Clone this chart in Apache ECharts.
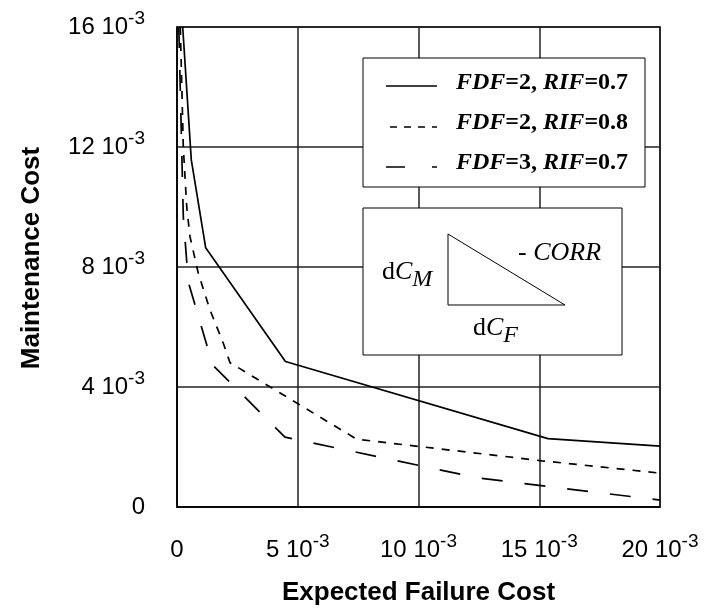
<!DOCTYPE html>
<html>
<head>
<meta charset="utf-8">
<script src="https://cdn.jsdelivr.net/npm/echarts@6/dist/echarts.min.js"></script>
<style>
html,body{margin:0;padding:0;background:#fff;}
#chart{width:704px;height:616px;}
</style>
</head>
<body>
<div id="chart"></div>
<script>
// Values in units of 10^-3
const seriesNames = ['FDF=2, RIF=0.7', 'FDF=2, RIF=0.8', 'FDF=3, RIF=0.7'];
const failCostA = [0.236, 0.592, 1.188, 4.49, 15.36, 20.0];
const maintCostA = [16.0, 11.57, 8.64, 4.85, 2.28, 2.03];
const failCostB = [0.137, 0.261, 0.402, 0.538, 0.882, 1.366, 1.917, 2.195, 7.44, 15.11, 20.0];
const maintCostB = [16.0, 12.0, 10.01, 9.01, 7.79, 6.57, 5.46, 4.81, 2.26, 1.54, 1.13];
const failCostC = [0.075, 0.261, 0.468, 1.478, 4.47, 12.46, 20.0];
const maintCostC = [16.0, 9.67, 7.5, 4.73, 2.33, 0.97, 0.23];
const xTickValues = [0, 5, 10, 15, 20];
const yTickValues = [0, 4, 8, 12, 16];
const tickExponent = '-3';

const pairs = (xs, ys) => xs.map((x, i) => [x, ys[i]]);
const tickRich = {
  a: {fontFamily: 'Liberation Sans', fontSize: 24, lineHeight: 36, color: '#000'},
  b: {fontFamily: 'Liberation Sans', fontSize: 19, lineHeight: 19, verticalAlign: 'top', color: '#000'}
};
const tickFmt = v => v === 0 ? '{a|0}' : '{a|' + v + ' 10}{b|' + tickExponent + '}';

const serif = 'Liberation Serif';
const legRich = {
  i: {fontFamily: serif, fontSize: 24, fontStyle: 'italic', fontWeight: 'bold', fill: '#000'},
  r: {fontFamily: serif, fontSize: 24, fontWeight: 'bold', fill: '#000'}
};
function legText(name) {
  const m = name.match(/^FDF(=\d+, )RIF(=[\d.]+)$/);
  return '{i|FDF}{r|' + m[1] + '}{i|RIF}{r|' + m[2] + '}';
}
const insetRich = {
  r: {fontFamily: serif, fontSize: 26, lineHeight: 40, fill: '#000'},
  i: {fontFamily: serif, fontSize: 26, lineHeight: 40, fontStyle: 'italic', fill: '#000'},
  s: {fontFamily: serif, fontSize: 24, lineHeight: 24, fontStyle: 'italic', verticalAlign: 'bottom', fill: '#000'}
};

const chart = echarts.init(document.getElementById('chart'));
chart.setOption({
  animation: false,
  backgroundColor: '#fff',
  grid: {left: 177, right: 44, top: 27, bottom: 109, show: true, borderColor: '#000', borderWidth: 1.5, backgroundColor: 'transparent'},
  xAxis: {
    type: 'value', min: 0, max: 20, interval: 5,
    axisLine: {show: true, lineStyle: {color: '#000', width: 1.5}},
    axisTick: {show: false},
    splitLine: {show: true, lineStyle: {color: '#222', width: 1.5}},
    axisLabel: {margin: 25, formatter: tickFmt, rich: tickRich},
    name: 'Expected Failure Cost', nameLocation: 'middle', nameGap: 73,
    nameTextStyle: {fontFamily: 'Liberation Sans', fontWeight: 'bold', fontSize: 26, color: '#000'}
  },
  yAxis: {
    type: 'value', min: 0, max: 16, interval: 4,
    axisLine: {show: true, lineStyle: {color: '#000', width: 1.5}},
    axisTick: {show: false},
    splitLine: {show: true, lineStyle: {color: '#222', width: 1.5}},
    axisLabel: {margin: 32, formatter: tickFmt, rich: tickRich},
    name: 'Maintenance Cost', nameLocation: 'middle', nameGap: 132,
    nameTextStyle: {fontFamily: 'Liberation Sans', fontWeight: 'bold', fontSize: 26, color: '#000', padding: [0, 0, 0, 18]}
  },
  series: [
    {name: seriesNames[0], type: 'line', data: pairs(failCostA, maintCostA), showSymbol: false, symbol: 'none',
     lineStyle: {color: '#000', width: 1.7, type: 'solid'}, z: 5},
    {name: seriesNames[1], type: 'line', data: pairs(failCostB, maintCostB), showSymbol: false, symbol: 'none',
     lineStyle: {color: '#000', width: 1.7, type: [8, 8]}, z: 5},
    {name: seriesNames[2], type: 'line', data: pairs(failCostC, maintCostC), showSymbol: false, symbol: 'none',
     lineStyle: {color: '#000', width: 1.7, type: [21, 22]}, z: 5}
  ],
  graphic: [
    {type: 'rect', z: 100, shape: {x: 363, y: 58, width: 282, height: 129}, style: {fill: '#fff', stroke: '#000', lineWidth: 1}},
    {type: 'line', z: 101, shape: {x1: 386, y1: 86, x2: 437, y2: 86}, style: {stroke: '#000', lineWidth: 1.5}},
    {type: 'line', z: 101, shape: {x1: 390, y1: 127, x2: 437, y2: 127}, style: {stroke: '#000', lineWidth: 1.5, lineDash: [7, 7]}},
    {type: 'line', z: 101, shape: {x1: 386, y1: 167, x2: 437, y2: 167}, style: {stroke: '#000', lineWidth: 1.5, lineDash: [19, 27]}},
    {type: 'text', z: 101, style: {x: 456, y: 83, text: legText(seriesNames[0]), rich: legRich, verticalAlign: 'middle'}},
    {type: 'text', z: 101, style: {x: 456, y: 123, text: legText(seriesNames[1]), rich: legRich, verticalAlign: 'middle'}},
    {type: 'text', z: 101, style: {x: 456, y: 163, text: legText(seriesNames[2]), rich: legRich, verticalAlign: 'middle'}},
    {type: 'rect', z: 100, shape: {x: 363, y: 208, width: 259, height: 147}, style: {fill: '#fff', stroke: '#000', lineWidth: 1}},
    {type: 'polygon', z: 101, shape: {points: [[448, 234], [448, 305], [565, 305]]}, style: {fill: 'none', stroke: '#000', lineWidth: 1}},
    {type: 'text', z: 101, style: {x: 382, y: 272, text: '{r|d}{i|C}{s|M}', rich: insetRich, verticalAlign: 'middle'}},
    {type: 'text', z: 101, style: {x: 518, y: 253, text: '{r|- }{i|CORR}', rich: insetRich, verticalAlign: 'middle'}},
    {type: 'text', z: 101, style: {x: 473, y: 328, text: '{r|d}{i|C}{s|F}', rich: insetRich, verticalAlign: 'middle'}}
  ]
});
</script>
</body>
</html>
